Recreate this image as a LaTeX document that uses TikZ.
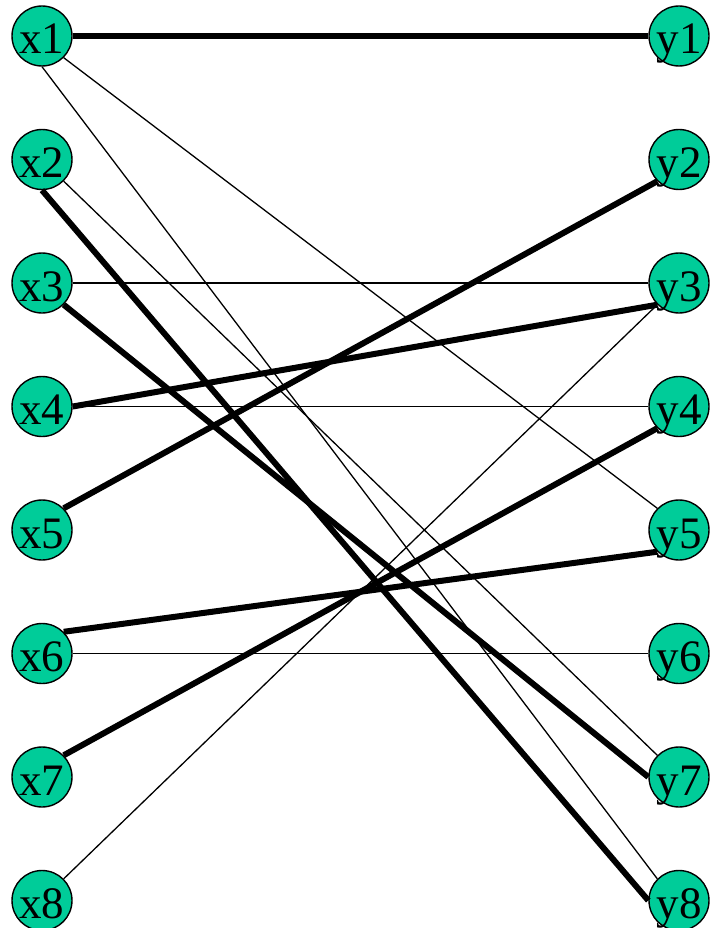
\documentclass[tikz,border=0pt]{standalone}
\usepackage{fontspec}
\setmainfont{Liberation Serif}
\usepackage{xcolor}
\usepackage{tikz}
\definecolor{vert}{HTML}{00CC99}
\tikzset{
  vtx/.style={circle, draw=black, fill=vert, line width=1.4pt, minimum size=60pt, inner sep=0pt,
    text height=36pt, text depth=0pt, font=\fontsize{45}{45}\selectfont},
  thin/.style={draw=black, line width=1.3pt},
  match/.style={draw=black, line width=6pt},
}

\begin{document}
\begin{tikzpicture}[x=1pt,y=-1pt]
  \fill[white] (0,0) rectangle (721,928);
  \useasboundingbox (0,0) rectangle (721,928);

  \foreach \i in {1,...,8} {
    \node[vtx] (x\i) at (42,{36+123.5*(\i-1)}) {x\i};
    \node[vtx] (y\i) at (679,{36+123.5*(\i-1)}) {y\i};
  }

  % edges of the graph
  \draw[thin] (x1.south east) -- (y5.north west);
  \draw[thin] (x1.south) -- (y8.north west);
  \draw[thin] (x2.south east) -- (y7.north west);
  \draw[thin] (x3.east) -- (y3.west);
  \draw[thin] (x4.east) -- (y4.west);
  \draw[thin] (x6.east) -- (y6.west);
  \draw[thin] (x8.north east) -- (y3.south west);

  % matching
  \draw[match] (x1.east) -- (y1.west);
  \draw[match] (x2.south) -- (y8.west);
  \draw[match] (x3.south east) -- (y7.west);
  \draw[match] (x4.east) -- (y3.south west);
  \draw[match] (x5.north east) -- (y2.south west);
  \draw[match] (x6.north east) -- (y5.south west);
  \draw[match] (x7.north east) -- (y4.south west);
\end{tikzpicture}
\end{document}
